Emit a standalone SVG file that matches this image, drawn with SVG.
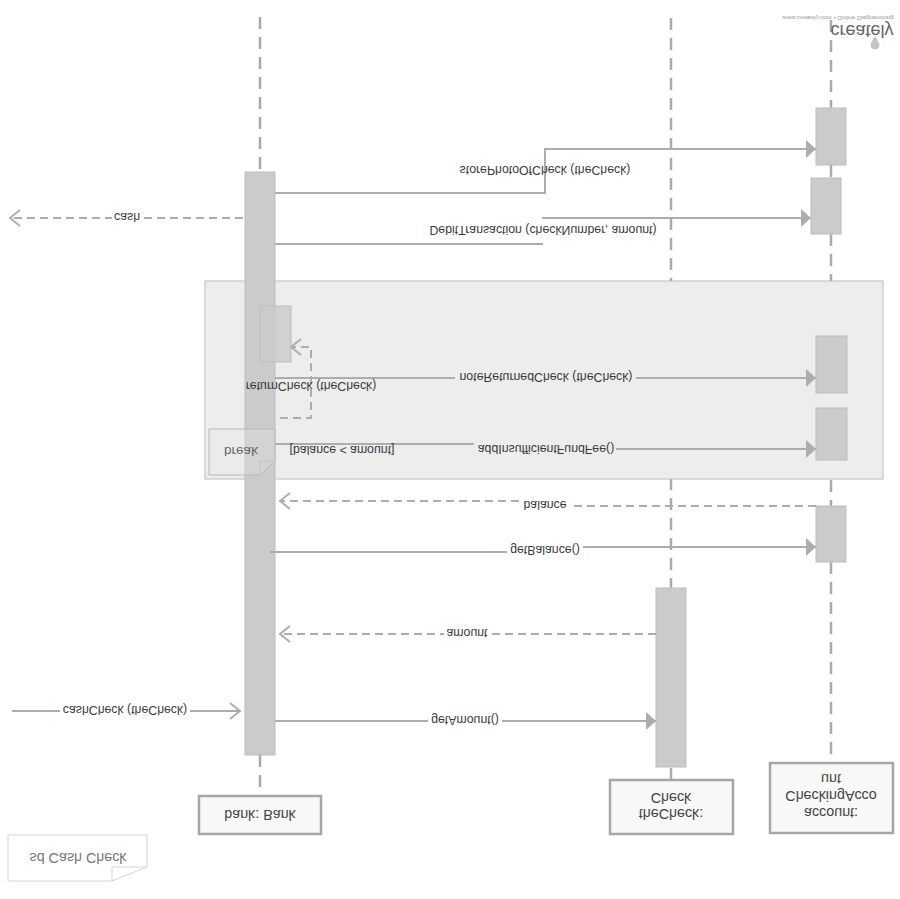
<svg xmlns="http://www.w3.org/2000/svg" width="900" height="899" viewBox="0 0 900 899">
<style>
text{font-family:"Liberation Sans",Arial,sans-serif;font-size:12.3px;fill:#3a3a3a;text-anchor:middle}
.big{font-size:14.3px;fill:#444}
.life{stroke:#aaa;stroke-width:2.5;stroke-dasharray:12 8;fill:none}
.solid{stroke:#adadad;stroke-width:2;fill:none}
.dash{stroke:#adadad;stroke-width:2;stroke-dasharray:8 5;fill:none}
.act{fill:#cbcbcb;stroke:#bdbdbd;stroke-width:1}
.obj{fill:#f8f8f8;stroke:#a6a6a6;stroke-width:2.5}
</style>
<defs>
<marker id="fill" markerUnits="userSpaceOnUse" markerWidth="12" markerHeight="20" refX="11" refY="10" orient="auto"><path d="M1 1L11 10L1 19Z" fill="#adadad"/></marker>
<marker id="open" markerUnits="userSpaceOnUse" markerWidth="14" markerHeight="20" refX="12" refY="10" orient="auto"><path d="M2 2L12 10L2 18" fill="none" stroke="#adadad" stroke-width="2"/></marker>
</defs>
<rect width="900" height="899" fill="#fff"/>
<g id="lifelines">
<path class="life" d="M260 17V172M260 755V796M671 18V588M671 768V780M831 20V108M831 165V178M831 234V336M831 393V408M831 460V506M831 562V763"/>
</g>
<g id="break-frame">
<rect x="205" y="281" width="678" height="198" fill="#ededed" stroke="#bcbcbc" stroke-width="1"/>
</g>
<g id="bank-activation"><rect class="act" x="245" y="172" width="30" height="583"/><rect class="act" x="260" y="306" width="31" height="56" fill-opacity=".85"/></g>
<g id="break-label">
<path d="M209 429H275V461L260 475H209Z" fill="#e8e8e8" fill-opacity=".3" stroke="#b8b8b8"/>
<path d="M260 475V461H275" fill="none" stroke="#c4c4c4"/>
<text transform="translate(241,447) scale(1,-1)" style="font-size:13.5px;fill:#666">break</text>
</g>
<g id="account-activations">
<rect class="act" x="816" y="108" width="30" height="57"/>
<rect class="act" x="811" y="178" width="30" height="56"/>
<rect class="act" x="816" y="336" width="31" height="57"/>
<rect class="act" x="816" y="408" width="31" height="52"/>
<rect class="act" x="816" y="506" width="30" height="56"/>
</g>
<g id="check-activation"><rect class="act" x="656" y="588" width="30" height="179"/></g>
<g id="connectors">
<path class="solid" d="M275 193H545V149H816" marker-end="url(#fill)"/>
<path class="solid" d="M275 244H543"/>
<path class="solid" d="M542 218H811" marker-end="url(#fill)"/>
<path class="dash" d="M243 218H10" marker-end="url(#open)"/>
<path class="dash" d="M280 418H311V347H291" marker-end="url(#open)"/>
<path class="solid" d="M275 378H816" marker-end="url(#fill)"/>
<path class="solid" d="M275 444H545"/>
<path class="solid" d="M545 449H816" marker-end="url(#fill)"/>
<path class="dash" d="M816 506H545"/>
<path class="dash" d="M545 501H280" marker-end="url(#open)"/>
<path class="solid" d="M270 552H545"/>
<path class="solid" d="M545 547H816" marker-end="url(#fill)"/>
<path class="dash" d="M656 634H280" marker-end="url(#open)"/>
<path class="solid" d="M12 711H240" marker-end="url(#open)"/>
<path class="solid" d="M275 721H656" marker-end="url(#fill)"/>
</g>
<g id="connector-labels">
<rect x="112" y="210" width="30" height="16" fill="#fff"/>
<rect x="455" y="370" width="181" height="16" fill="#ededed"/>
<rect x="474" y="441" width="142" height="16" fill="#ededed"/>
<rect x="520" y="497" width="51" height="16" fill="#fff"/>
<rect x="507" y="543" width="76" height="16" fill="#fff"/>
<rect x="444" y="626" width="46" height="16" fill="#fff"/>
<rect x="60" y="703" width="130" height="16" fill="#fff"/>
<rect x="428" y="713" width="74" height="16" fill="#fff"/>
<text transform="translate(545,166) scale(1,-1)">storePhotoOfCheck (theCheck)</text>
<text transform="translate(543,226) scale(1,-1)">DebitTransaction (checkNumber, amount)</text>
<text transform="translate(127,213) scale(1,-1)">cash</text>
<text transform="translate(311,382) scale(1,-1)">returnCheck (theCheck)</text>
<text transform="translate(546,373) scale(1,-1)">noteReturnedCheck (theCheck)</text>
<text transform="translate(342,446) scale(1,-1)">[balance &lt; amount]</text>
<text transform="translate(546,445) scale(1,-1)">addInsufficientFundFee()</text>
<text transform="translate(545,501) scale(1,-1)">balance</text>
<text transform="translate(545,546) scale(1,-1)">getBalance()</text>
<text transform="translate(467,629) scale(1,-1)">amount</text>
<text transform="translate(125,706) scale(1,-1)">cashCheck (theCheck)</text>
<text transform="translate(465,716) scale(1,-1)">getAmount()</text>
</g>
<g id="bank"><rect class="obj" x="199" y="796" width="122" height="38"/><text class="big" transform="translate(260,810) scale(1,-1)">bank: Bank</text></g>
<g id="theCheck"><rect class="obj" x="610" y="780" width="123" height="54"/>
<text class="big" transform="translate(671,809) scale(1,-1)">theCheck:</text><text class="big" transform="translate(671,793) scale(1,-1)">Check</text></g>
<g id="account"><rect class="obj" x="770" y="763" width="123" height="70"/>
<text class="big" transform="translate(831,808) scale(1,-1)">account:</text><text class="big" transform="translate(831,791) scale(1,-1)">CheckingAcco</text><text class="big" transform="translate(831,774) scale(1,-1)">unt</text></g>
<g id="sd-note">
<path d="M8 835H147V867L112 881H8Z" fill="#fff" stroke="#d4d4d4"/>
<path d="M112 881V867H147" fill="none" stroke="#d4d4d4"/>
<text class="big" transform="translate(78,853) scale(1,-1)" style="fill:#777">sd Cash Check</text>
</g>
<g id="logo">
<text transform="translate(862,25) scale(1,-1)" style="font-size:18px;fill:#666">creately</text>
<text transform="translate(838,16) scale(1,-1)" style="font-size:6.2px;fill:#999">www.creately.com • Online Diagramming</text>
<path d="M875 48L871 41A4.500 4.500 0 1 1 879 41Z" transform="rotate(180 875 42)" fill="#c4c4c4"/>
</g>
</svg>
